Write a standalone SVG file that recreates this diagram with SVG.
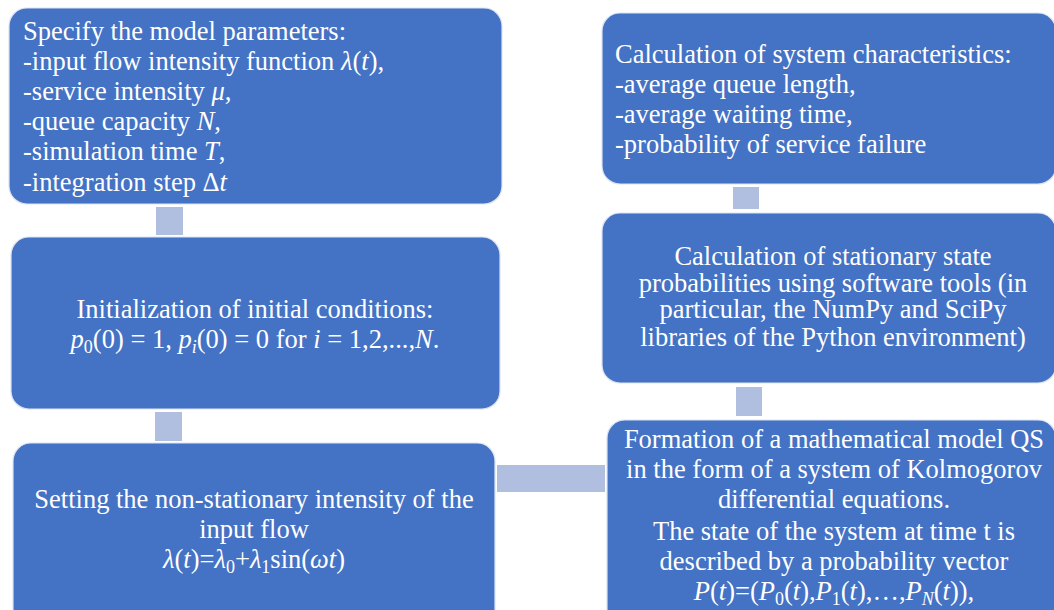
<svg xmlns="http://www.w3.org/2000/svg" width="1054" height="610" viewBox="0 0 1054 610">
<style>
.box{fill:#4472C4;stroke:#dce3f2;stroke-width:1.2}
.conn{fill:#B0BEDF}
text{font-family:"Liberation Serif","Times New Roman",serif;font-size:26.5px;fill:#ffffff}
.c{text-anchor:middle}
.i{font-style:italic}
.s{font-size:18px}
</style>
<rect width="1054" height="610" fill="#ffffff"/>
<g id="connectors">
<rect class="conn" x="156" y="207" width="27" height="28"/>
<rect class="conn" x="155" y="412" width="27" height="29"/>
<rect class="conn" x="497" y="465" width="108" height="27"/>
<rect class="conn" x="736" y="387" width="26" height="29"/>
<rect class="conn" x="733" y="187" width="26" height="22"/>
</g>
<g id="node-params">
<rect class="box" x="9" y="8" width="493" height="196" rx="18"/>
<text x="23" y="40">Specify the model parameters:</text>
<text x="23" y="70">-input flow intensity function <tspan class="i">λ</tspan>(<tspan class="i">t</tspan>),</text>
<text x="23" y="100">-service intensity <tspan class="i">μ</tspan>,</text>
<text x="23" y="130">-queue capacity <tspan class="i">N</tspan>,</text>
<text x="23" y="160">-simulation time <tspan class="i">T</tspan>,</text>
<text x="23" y="191">-integration step Δ<tspan class="i">t</tspan></text>
</g>
<g id="node-init">
<rect class="box" x="11" y="237" width="489" height="172" rx="18"/>
<text class="c" x="255" y="318">Initialization of initial conditions:</text>
<text class="c" x="255" y="348"><tspan class="i">p</tspan><tspan class="s" dy="5">0</tspan><tspan dy="-5">(0) = 1, </tspan><tspan class="i">p</tspan><tspan class="s i" dy="5">i</tspan><tspan dy="-5">(0) = 0 for </tspan><tspan class="i">i</tspan> = 1,2,...,<tspan class="i">N</tspan>.</text>
</g>
<g id="node-intensity">
<rect class="box" x="13" y="443" width="482" height="200" rx="18"/>
<text class="c" x="254" y="508">Setting the non-stationary intensity of the</text>
<text class="c" x="254" y="538">input flow</text>
<text class="c" x="254" y="568"><tspan class="i">λ</tspan>(<tspan class="i">t</tspan>)=<tspan class="i">λ</tspan><tspan class="s" dy="5">0</tspan><tspan dy="-5">+</tspan><tspan class="i">λ</tspan><tspan class="s" dy="5">1</tspan><tspan dy="-5">sin(</tspan><tspan class="i">ωt</tspan>)</text>
</g>
<g id="node-model">
<rect class="box" x="607" y="420" width="449" height="220" rx="18"/>
<text class="c" x="834" y="448">Formation of a mathematical model QS</text>
<text class="c" x="834" y="478">in the form of a system of Kolmogorov</text>
<text class="c" x="834" y="508">differential equations.</text>
<text class="c" x="834" y="540">The state of the system at time t is</text>
<text class="c" x="834" y="570">described by a probability vector</text>
<text class="c" x="834" y="600"><tspan class="i">P</tspan>(<tspan class="i">t</tspan>)=(<tspan class="i">P</tspan><tspan class="s" dy="5">0</tspan><tspan dy="-5">(</tspan><tspan class="i">t</tspan>),<tspan class="i">P</tspan><tspan class="s" dy="5">1</tspan><tspan dy="-5">(</tspan><tspan class="i">t</tspan>),…,<tspan class="i">P</tspan><tspan class="s i" dy="5">N</tspan><tspan dy="-5">(</tspan><tspan class="i">t</tspan>)),</text>
</g>
<g id="node-stationary">
<rect class="box" x="602" y="213" width="454" height="170" rx="18"/>
<text class="c" x="833" y="265">Calculation of stationary state</text>
<text class="c" x="833" y="292">probabilities using software tools (in</text>
<text class="c" x="833" y="318">particular, the NumPy and SciPy</text>
<text class="c" x="833" y="346">libraries of the Python environment)</text>
</g>
<g id="node-characteristics">
<rect class="box" x="602" y="13" width="454" height="171" rx="18"/>
<text x="615" y="63">Calculation of system characteristics:</text>
<text x="615" y="93">-average queue length,</text>
<text x="615" y="123">-average waiting time,</text>
<text x="615" y="153">-probability of service failure</text>
</g>
</svg>
